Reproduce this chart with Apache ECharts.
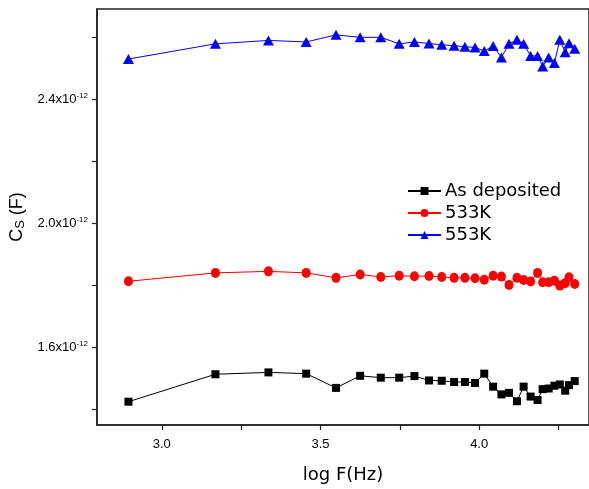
<!DOCTYPE html>
<html>
<head>
<meta charset="utf-8">
<script src="https://cdn.jsdelivr.net/npm/echarts@6/dist/echarts.min.js"></script>
<style>
html,body{margin:0;padding:0;background:#fff;}
#chart{width:589px;height:489px;}
</style>
</head>
<body>
<div id="chart"></div>
<script>
// log F (Hz)
const logF = [2.895, 3.169, 3.336, 3.455, 3.549, 3.625, 3.690, 3.748, 3.796, 3.842, 3.882, 3.921,
  3.955, 3.987, 4.016, 4.044, 4.070, 4.094, 4.119, 4.140, 4.162, 4.184, 4.200, 4.219, 4.237, 4.254, 4.271, 4.283, 4.301];
// Cs in units of 10^-12 F
const asDeposited = [1.4255, 1.514, 1.520, 1.516, 1.470, 1.509, 1.503, 1.503, 1.508, 1.494, 1.493, 1.489,
  1.489, 1.486, 1.516, 1.474, 1.449, 1.454, 1.427, 1.474, 1.442, 1.431, 1.466, 1.468, 1.477, 1.481, 1.461, 1.479, 1.492];
const k533 = [1.814, 1.841, 1.846, 1.841, 1.825, 1.836, 1.828, 1.832, 1.830, 1.831, 1.828, 1.825,
  1.825, 1.824, 1.819, 1.832, 1.829, 1.802, 1.825, 1.818, 1.813, 1.841, 1.811, 1.811, 1.816, 1.800, 1.808, 1.827, 1.805];
const k553 = [2.531, 2.580, 2.591, 2.586, 2.609, 2.601, 2.601, 2.580, 2.586, 2.581, 2.577, 2.574,
  2.571, 2.568, 2.557, 2.573, 2.536, 2.580, 2.593, 2.580, 2.541, 2.541, 2.507, 2.536, 2.518, 2.593, 2.553, 2.582, 2.564];

const seriesNames = ['As deposited', '533K', '553K'];
const xTickLabels = [3.0, 3.5, 4.0];
const xTicks = [3.0, 3.25, 3.5, 3.75, 4.0, 4.25];
const yTickLabels = [1.6, 2.0, 2.4];
const yTicks = [1.4, 1.6, 1.8, 2.0, 2.2, 2.4, 2.6];

const pair = (xs, ys) => xs.map((x, i) => [x, ys[i]]);

const chart = echarts.init(document.getElementById('chart'), null, {renderer: 'canvas'});
const axisCol = '#222';
chart.setOption({
  animation: false,
  backgroundColor: '#fff',
  grid: {left: 94, top: 9, right: -1, bottom: 62.3, show: true, borderColor: axisCol, borderWidth: 1.5, backgroundColor: 'transparent'},
  legend: {
    orient: 'vertical', left: 402, top: 177, itemWidth: 33, itemHeight: 10, itemGap: 4,
    data: seriesNames,
    textStyle: {fontFamily: 'DejaVu Sans', fontSize: 18, color: '#000', padding: [0, 0, 0, -1]}
  },
  xAxis: {
    type: 'value', min: 2.7959, max: 4.346,
    name: 'log F(Hz)', nameLocation: 'middle', nameGap: 41,
    nameTextStyle: {fontFamily: 'DejaVu Sans', fontSize: 18, color: '#000'},
    axisLine: {lineStyle: {color: axisCol, width: 1.5}},
    axisTick: {show: true, inside: false, length: 5, customValues: xTicks, lineStyle: {color: axisCol, width: 1.2}},
    axisLabel: {customValues: xTickLabels, margin: 13, fontFamily: 'Liberation Sans', fontSize: 13, color: '#000',
      formatter: v => v.toFixed(1)},
    splitLine: {show: false}
  },
  yAxis: {
    type: 'value', min: 1.3503, max: 2.6924,
    name: '{c|C}{s|S}{c| (F)}', nameLocation: 'middle', nameGap: 64, nameRotate: 90,
    nameTextStyle: {rich: {
      c: {fontFamily: 'Liberation Sans', fontSize: 18, color: '#000'},
      s: {fontFamily: 'Liberation Sans', fontSize: 13, color: '#000', verticalAlign: 'bottom', padding: [6, 0, 0, 0]}
    }},
    axisLine: {lineStyle: {color: axisCol, width: 1.5}},
    axisTick: {show: true, inside: false, length: 5, customValues: yTicks, lineStyle: {color: axisCol, width: 1.2}},
    axisLabel: {customValues: yTickLabels, margin: 9,
      formatter: v => '{m|' + v.toFixed(1) + 'x10}{e|-12}',
      rich: {
        m: {fontFamily: 'Liberation Sans', fontSize: 13, color: '#000'},
        e: {fontFamily: 'Liberation Sans', fontSize: 8, color: '#000', verticalAlign: 'top', padding: [0, 0, 8, 0]}
      }},
    splitLine: {show: false}
  },
  series: [
    {name: seriesNames[0], type: 'line', data: pair(logF, asDeposited), symbol: 'rect', symbolSize: 8,
      itemStyle: {color: '#000'}, lineStyle: {color: '#000', width: 1}},
    {name: seriesNames[1], type: 'line', data: pair(logF, k533), symbol: 'circle', symbolSize: [9, 10],
      itemStyle: {color: '#ff0000'}, lineStyle: {color: '#ff0000', width: 1}},
    {name: seriesNames[2], type: 'line', data: pair(logF, k553), symbol: 'triangle', symbolSize: [11, 10],
      itemStyle: {color: '#0000ff'}, lineStyle: {color: '#0000ff', width: 1}}
  ]
});
</script>
</body>
</html>
